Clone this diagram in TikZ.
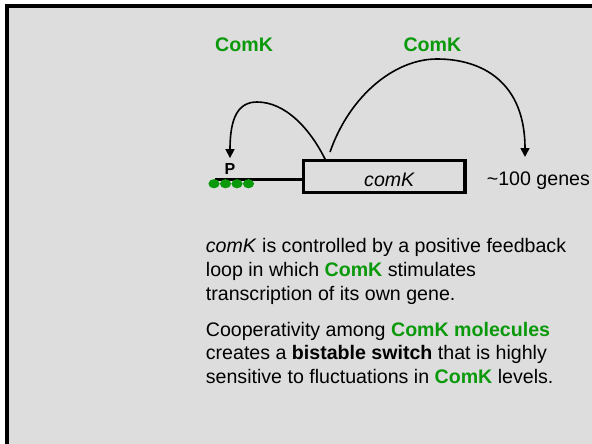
\documentclass[tikz,border=0pt]{standalone}
\usepackage{fontspec}
\setmainfont{Liberation Sans}
\usetikzlibrary{arrows.meta}
\definecolor{bg}{RGB}{221,221,221}
\definecolor{comkgreen}{RGB}{10,153,10}
\begin{document}
\begin{tikzpicture}[x=1pt,y=-1pt,
  body/.style={anchor=base west,inner sep=0pt,font=\fontsize{19.6}{23.7}\selectfont},
  greenlabel/.style={anchor=base west,inner sep=0pt,text=comkgreen,font=\fontsize{19.6}{23.7}\selectfont\bfseries},
  genebox/.style={draw=black,line width=3.3pt,minimum width=161.7pt,minimum height=32.2pt,inner sep=0pt,outer sep=0pt},
  curvearrow/.style={line width=1.6pt,-{Triangle[length=9pt,width=9pt]}},
  dotfill/.style={fill=comkgreen}]
\useasboundingbox (0,0) rectangle (592,444);
\clip (0,0) rectangle (592,444);
\fill[white] (0,0) rectangle (592,444);
\draw[line width=3.5pt,fill=bg] (7,6) rectangle (620,470);

% labels
\node[greenlabel] (lbl1) at (215,51.7) {ComK};
\node[greenlabel] (lbl2) at (403.3,51.7) {ComK};

% gene box
\node[genebox] (gene) at (384.2,176.6) {};
\node[body] (genetext) at (364,186.7) {\itshape comK};
\node[body] (targets) at (486.7,185.7) {\textasciitilde100 genes};

% promoter line
\coordinate (promstart) at (215,179.3);
\draw[line width=3pt] (promstart) -- (promstart -| gene.west);
\foreach \xx/\nm in {214/d1,225.5/d2,237/d3,248.5/d4}
  \fill[dotfill] (\xx,183.7) ellipse [x radius=5.6pt, y radius=4.6pt];
\node[anchor=base,inner sep=0pt,font=\fontsize{16}{18}\selectfont\bfseries] (P) at (230,174.3) {P};

% feedback arrows
\coordinate (s1) at (326,161);
\coordinate (s2) at (330,152);
\coordinate (t2) at (525,157);
\draw[curvearrow,shorten >=5pt] (s1) .. controls (310,128) and (285,102) .. (257,102)
   .. controls (238,102) and (230,118) .. (P.north);
\draw[curvearrow] (s2) .. controls (350,95) and (395,59) .. (437,59)
   .. controls (482,59) and (525,82) .. (t2);

% text
\node[body] (l1) at (205.7,252) {\textit{comK} is controlled by a positive feedback};
\node[body] (l2) at (205.7,276) {loop in which \textcolor{comkgreen}{\bfseries ComK} stimulates};
\node[body] (l3) at (205.7,300) {transcription of its own gene.};
\node[body] (l4) at (205.7,336) {Cooperativity among \textcolor{comkgreen}{\bfseries ComK molecules}};
\node[body] (l5) at (205.7,359.5) {creates a \textbf{bistable switch} that is highly};
\node[body] (l6) at (205.7,383) {sensitive to fluctuations in \textcolor{comkgreen}{\bfseries ComK} levels.};
\end{tikzpicture}
\end{document}
